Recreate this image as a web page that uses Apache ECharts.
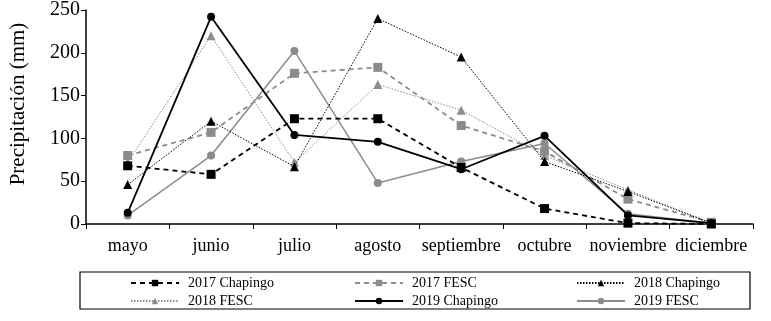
<!DOCTYPE html>
<html>
<head>
<meta charset="utf-8">
<script src="https://cdn.jsdelivr.net/npm/echarts@6/dist/echarts.min.js"></script>
<style>
  body { margin: 0; background: #fff; }
  #chart { width: 771px; height: 321px; }
</style>
</head>
<body>
<div id="chart"></div>
<script>
var months = ["mayo", "junio", "julio", "agosto", "septiembre", "octubre", "noviembre", "diciembre"];
var chap2017 = [68, 58, 123, 123, 66, 18, 1, 0];
var fesc2017 = [80, 107, 176, 183, 115, 85, 29, 2];
var chap2018 = [46, 120, 67, 240, 195, 73, 38, 1];
var fesc2018 = [72, 220, 72, 163, 133, 80, 40, 1];
var chap2019 = [13, 242, 104, 96, 64, 103, 10, 1];
var fesc2019 = [10, 80, 202, 48, 73, 94, 12, 1];
var yTicks = [0, 50, 100, 150, 200, 250];

var black = "#000000";
var grey = "#8c8c8c";
var font = "Liberation Serif";

function mk(name, data, color, type, width, symbol, size) {
  return {
    name: name,
    type: "line",
    data: data,
    symbol: symbol,
    symbolSize: size,
    color: color,
    itemStyle: { color: color },
    lineStyle: { color: color, type: type, width: width },
    z: color === black ? 3 : 2
  };
}

var chart = echarts.init(document.getElementById("chart"));
var legendBase = {
  orient: "vertical",
  top: 271,
  itemWidth: 48,
  itemHeight: 8,
  itemGap: 4,
  textStyle: { fontFamily: font, fontSize: 14, color: "#000", padding: [0, 0, 0, 4] }
};
chart.setOption({
  animation: false,
  grid: { left: 83, right: 18, top: 10, bottom: 97 },
  legend: [
    Object.assign({ left: 125, data: ["2017 Chapingo", "2018 FESC"] }, legendBase),
    Object.assign({ left: 349, data: ["2017 FESC", "2019 Chapingo"] }, legendBase),
    Object.assign({ left: 571, data: ["2018 Chapingo", "2019 FESC"] }, legendBase)
  ],
  graphic: [{
    type: "rect",
    shape: { x: 80, y: 272, width: 670, height: 37 },
    style: { fill: "none", stroke: "#000", lineWidth: 1.2 }
  }],
  xAxis: {
    type: "category",
    data: months,
    boundaryGap: true,
    axisLine: { lineStyle: { color: "#000", width: 1.5 } },
    axisTick: { show: true, length: 5, lineStyle: { color: "#000" } },
    axisLabel: { interval: 0, fontFamily: font, fontSize: 18, color: "#000", margin: 13 }
  },
  yAxis: {
    type: "value",
    min: 0,
    max: 250,
    interval: 50,
    name: "Precipitación (mm)",
    nameLocation: "middle",
    nameGap: 57,
    nameTextStyle: { fontFamily: font, fontSize: 21, color: "#000", padding: [0, 0, 0, 26] },
    axisLine: { show: true, lineStyle: { color: "#000", width: 1.5 } },
    axisTick: { show: true, length: 5, lineStyle: { color: "#000" } },
    axisLabel: {
      fontFamily: font, fontSize: 20, color: "#000", margin: 6,
      formatter: function (v) { return yTicks.indexOf(v) >= 0 ? String(v) : ""; }
    },
    splitLine: { show: false }
  },
  series: [
    mk("2017 Chapingo", chap2017, black, [5, 4], 1.8, "rect", 9),
    mk("2017 FESC", fesc2017, grey, [5, 4], 1.8, "rect", 9),
    mk("2018 Chapingo", chap2018, black, [1.5, 1.5], 1, "triangle", 9),
    mk("2018 FESC", fesc2018, grey, [1.5, 1.5], 1, "triangle", 9),
    mk("2019 Chapingo", chap2019, black, "solid", 1.8, "circle", 8),
    mk("2019 FESC", fesc2019, grey, "solid", 1.5, "circle", 8)
  ]
});
</script>
</body>
</html>
